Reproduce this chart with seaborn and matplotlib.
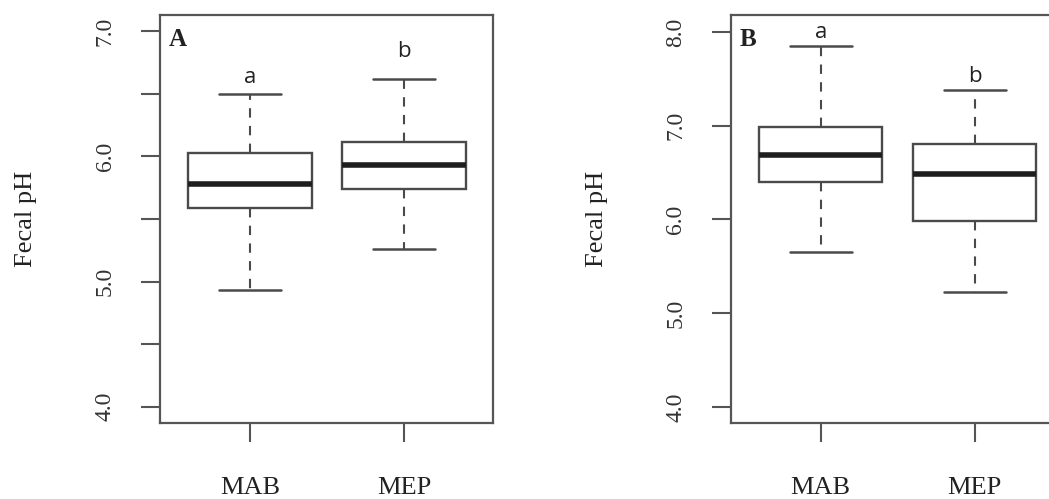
import seaborn as sns
import matplotlib.pyplot as plt
import pandas as pd

# 五数概括 (min, Q1, median, Q3, max)
groups = ["MAB", "MEP"]
stats_a_mab = [4.93, 5.59, 5.78, 6.03, 6.50]
stats_a_mep = [5.26, 5.74, 5.93, 6.115, 6.62]
stats_b_mab = [5.65, 6.40, 6.69, 6.99, 7.85]
stats_b_mep = [5.23, 5.98, 6.48, 6.81, 7.38]

# 显著性字母及其高度
letters = ["a", "b"]
letter_y_a = [6.63, 6.84]
letter_y_b = [7.99, 7.52]

sns.set_style("ticks")
plt.rcParams["font.family"] = ["Liberation Serif", "DejaVu Serif"]

LINE = "#4a4a4a"


def make_df(mab, mep):
    return pd.DataFrame({
        "group": [groups[0]] * len(mab) + [groups[1]] * len(mep),
        "pH": mab + mep,
    })


def draw_panel(ax, df, ylim, major, minor, letter_y, tag):
    sns.boxplot(
        data=df, x="group", y="pH", order=groups, ax=ax,
        whis=(0, 100), width=0.8, color="white", saturation=1,
        linecolor=LINE, linewidth=1.7,
        medianprops=dict(color="#1e1e1e", linewidth=4),
        whiskerprops=dict(color=LINE, linewidth=1.5, linestyle=(0, (4.5, 4))),
        capprops=dict(color=LINE, linewidth=1.8),
    )
    ax.set_xlim(-0.584, 1.578)
    ax.set_ylim(*ylim)
    ax.set_yticks(major)
    ax.set_yticklabels([f"{v:.1f}" for v in major])
    ax.set_yticks(minor, minor=True)

    for s in ax.spines.values():
        s.set_visible(True)
        s.set_color("#555555")
        s.set_linewidth(1.6)

    ax.tick_params(axis="both", which="both", length=14, width=1.5,
                   color="#555555", direction="out")
    ax.tick_params(axis="y", labelrotation=90, labelsize=17, pad=18,
                   labelcolor="#333333")
    ax.tick_params(axis="x", labelsize=19, pad=25, labelcolor="#222222")
    for lab in ax.get_yticklabels():
        lab.set_va("center")

    ax.set_xlabel("")
    ax.set_ylabel("Fecal pH", fontsize=19, color="#222222")
    ax.yaxis.set_label_coords(-0.37, 0.5)

    for i, (ch, y) in enumerate(zip(letters, letter_y)):
        ax.text(i, y, ch, ha="center", va="center", fontsize=16,
                family=["Open Sans", "DejaVu Sans"], color="#222222")
    ax.text(0.053, 0.94, tag, transform=ax.transAxes, ha="center",
            va="center", fontsize=18, fontweight="bold", color="#222222")


fig = plt.figure(figsize=(10.49, 4.99), dpi=100)
ax_a = fig.add_axes([0.1525, 0.1523, 0.3175, 0.8176])
ax_b = fig.add_axes([0.6966, 0.1523, 0.3175, 0.8176])

draw_panel(ax_a, make_df(stats_a_mab, stats_a_mep), (3.87, 7.13),
           [4.0, 5.0, 6.0, 7.0], [4.5, 5.5, 6.5], letter_y_a, "A")
draw_panel(ax_b, make_df(stats_b_mab, stats_b_mep), (3.83, 8.18),
           [4.0, 5.0, 6.0, 7.0, 8.0], [], letter_y_b, "B")

fig.savefig("out.png", dpi=100)
